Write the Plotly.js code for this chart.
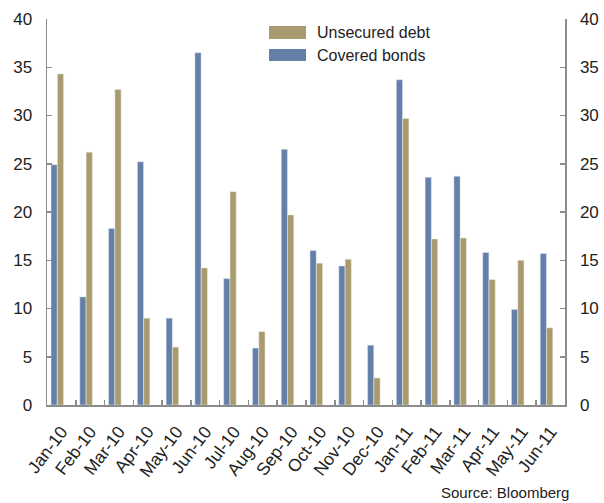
<!DOCTYPE html>
<html>
<head>
<meta charset="utf-8">
<script src="https://cdn.plot.ly/plotly-3.0.1.min.js"></script>
<style>html,body{margin:0;padding:0;background:#fff;}#chart{width:604px;height:503px;}</style>
</head>
<body>
<div id="chart"></div>
<script>
const months = ["Jan-10","Feb-10","Mar-10","Apr-10","May-10","Jun-10","Jul-10","Aug-10","Sep-10","Oct-10","Nov-10","Dec-10","Jan-11","Feb-11","Mar-11","Apr-11","May-11","Jun-11"];
const coveredBonds = [24.9,11.2,18.3,25.2,9.0,36.5,13.1,5.9,26.5,16.0,14.4,6.2,33.7,23.6,23.7,15.8,9.9,15.7];
const unsecuredDebt = [34.3,26.2,32.7,9.0,6.0,14.2,22.1,7.6,19.7,14.7,15.1,2.8,29.7,17.2,17.3,13.0,15.0,8.0];
const yTicks = [0,5,10,15,20,25,30,35,40];
const seriesNames = ["Unsecured debt","Covered bonds"];

const font = "Liberation Sans, Arial, sans-serif";
const axisColor = "#8c8c8c";
const blue = "#6480a9", tan = "#a89b6f";

const traces = [
  {type:"bar", name:seriesNames[1], x:months, y:coveredBonds, offset:-0.36, width:0.215, marker:{color:blue, line:{color:"#dfe6ef", width:0.5}}, showlegend:false},
  {type:"bar", name:seriesNames[0], x:months, y:unsecuredDebt, offset:-0.14, width:0.215, marker:{color:tan, line:{color:"#efebdf", width:0.5}}, showlegend:false},
  {type:"scatter", x:months, y:unsecuredDebt, yaxis:"y2", mode:"none", showlegend:false, hoverinfo:"skip"}
];

const yaxisBase = {
  range:[0,40], tickvals:yTicks, showgrid:false, zeroline:false,
  showline:true, linecolor:axisColor, linewidth:1.5,
  ticks:"inside", ticklen:5, tickcolor:axisColor, tickwidth:1.5,
  tickfont:{family:font, size:17, color:"#222"}, fixedrange:true
};

const W = 604-47-39, H = 503-19-98;
const px = x => (x-47)/W;
const py = y => (405-y)/H;
const legendRows = [{name:seriesNames[0], color:tan, y0:26, y1:39},{name:seriesNames[1], color:blue, y0:49, y1:61}];
const shapes = legendRows.map(r => ({type:"rect", xref:"paper", yref:"paper", x0:px(269), x1:px(306), y0:py(r.y1), y1:py(r.y0), fillcolor:r.color, line:{width:0}}));
const legendText = legendRows.map(r => ({text:r.name, xref:"paper", yref:"paper", x:px(315), y:py((r.y0+r.y1)/2), xanchor:"left", yanchor:"middle", showarrow:false, font:{family:font, size:16, color:"#222"}}));

const layout = {
  width:604, height:503,
  margin:{l:47, r:39, t:19, b:98},
  paper_bgcolor:"#fff", plot_bgcolor:"#fff",
  barmode:"overlay",
  showlegend:false,
  xaxis:{
    type:"category", tickson:"boundaries", ticks:"inside", ticklen:5, tickcolor:axisColor, tickwidth:1.5,
    showline:true, linecolor:axisColor, linewidth:1.5, showgrid:false, range:[-0.5,17.5],
    tickangle:-53, ticklabelstandoff:8, tickfont:{family:font, size:17.5, color:"#222"}
  },
  yaxis:Object.assign({}, yaxisBase, {side:"left", ticklabelstandoff:10}),
  yaxis2:Object.assign({}, yaxisBase, {side:"right", overlaying:"y", ticklabelstandoff:10}),
  shapes:shapes,
  annotations:legendText.concat([{
    text:"Source: Bloomberg", xref:"paper", yref:"paper", x:px(571), y:py(503),
    xanchor:"right", yanchor:"bottom", showarrow:false,
    font:{family:font, size:15, color:"#222"}
  }])
};

Plotly.newPlot("chart", traces, layout, {displayModeBar:false, staticPlot:true});
</script>
</body>
</html>
